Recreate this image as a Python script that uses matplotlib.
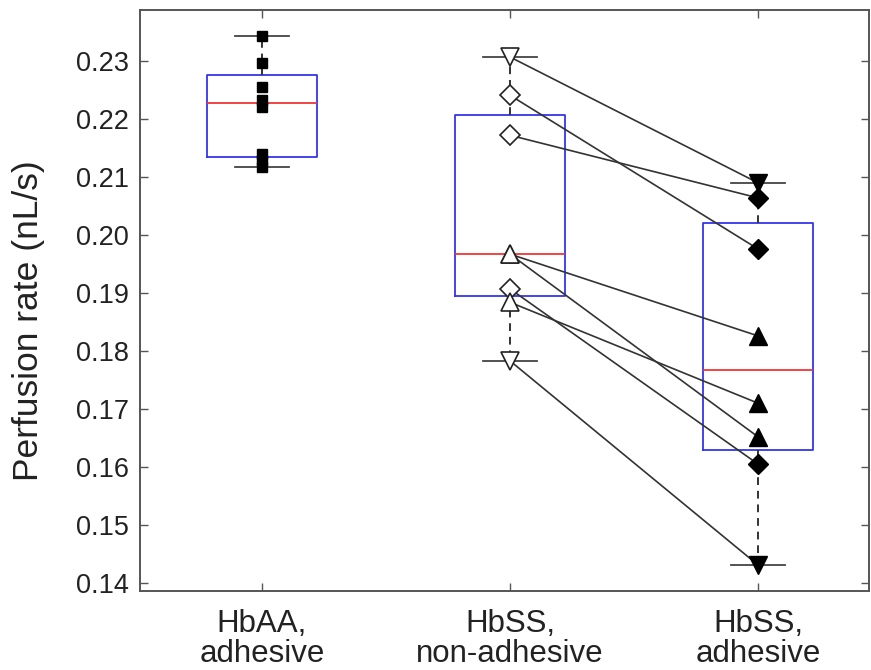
import numpy as np
import matplotlib
matplotlib.use("Agg")
import matplotlib.pyplot as plt

plt.rcParams['font.family'] = ['Liberation Sans', 'DejaVu Sans']

categories = ["HbAA,\nadhesive", "HbSS,\nnon-adhesive", "HbSS,\nadhesive"]
hbaa_adhesive = [0.2343, 0.2297, 0.2255, 0.2233, 0.2221, 0.2140, 0.2130, 0.2117]
hbss_nonadhesive = [0.2307, 0.2241, 0.2172, 0.1967, 0.1967, 0.1907, 0.1884, 0.1783]
hbss_adhesive = [0.2090, 0.1976, 0.2064, 0.1826, 0.1652, 0.1605, 0.1710, 0.1431]
pair_markers = ['v', 'D', 'D', '^', '^', 'D', '^', 'v']
yticks = [0.14, 0.15, 0.16, 0.17, 0.18, 0.19, 0.20, 0.21, 0.22, 0.23]

W, H = 871, 670
fig = plt.figure(figsize=(W / 100, H / 100), dpi=100)
ax = fig.add_axes([140 / W, 1 - 591 / H, (869 - 140) / W, (591 - 10) / H])


def box_stats(vals, label):
    v = np.asarray(vals)
    q1, med, q3 = np.percentile(v, [25, 50, 75], method='hazen')
    return dict(med=med, q1=q1, q3=q3, whislo=v.min(), whishi=v.max(),
                fliers=[], label=label)


groups = [hbaa_adhesive, hbss_nonadhesive, hbss_adhesive]
stats = [box_stats(g, c) for g, c in zip(groups, categories)]
ax.bxp(stats, positions=[1, 2, 3], widths=0.444, capwidths=0.22,
       showfliers=False, manage_ticks=False,
       boxprops=dict(color='#3535f0', lw=1.3),
       medianprops=dict(color='#f03535', lw=1.3),
       whiskerprops=dict(color='#333333', lw=1.4, ls=(0, (4, 3))),
       capprops=dict(color='#444444', lw=1.3))

# connecting lines between paired measurements
for a, b in zip(hbss_nonadhesive, hbss_adhesive):
    ax.plot([2, 3], [a, b], color='#333333', lw=1.2, zorder=3)

tri_ms = 12.5
dia_ms = 10.0
for a, b, m in zip(hbss_nonadhesive, hbss_adhesive, pair_markers):
    ms = dia_ms if m == 'D' else tri_ms
    ax.plot([2], [a], marker=m, ms=ms, mfc='white', mec='#222222', mew=1.2,
            ls='none', zorder=4)
    ax.plot([3], [b], marker=m, ms=ms, mfc='black', mec='black', mew=1.0,
            ls='none', zorder=4)

ax.plot([1] * len(hbaa_adhesive), hbaa_adhesive, marker='s', ms=7.5,
        mfc='black', mec='black', ls='none', zorder=4)

ax.set_xlim(0.508, 3.448)
ax.set_ylim(0.1386, 0.2388)
ax.set_xticks([1, 2, 3])
ax.set_xticklabels(categories, fontsize=22.5, color='#222222', linespacing=1.0)
ax.set_yticks(yticks)
ax.set_yticklabels([f"{t:.2f}" for t in yticks], fontsize=19.5, color='#222222')
ax.tick_params(direction='in', top=True, right=True, length=6, width=1.0,
               color='#555555')
ax.tick_params(axis='x', pad=13)
ax.tick_params(axis='y', pad=8)
for s in ax.spines.values():
    s.set_color('#555555')
    s.set_linewidth(1.4)
ax.set_ylabel("Perfusion rate (nL/s)", fontsize=25.5, color='#222222', labelpad=22)
ax.yaxis.label.set_y(0.465)

fig.savefig("out.png", dpi=100)
